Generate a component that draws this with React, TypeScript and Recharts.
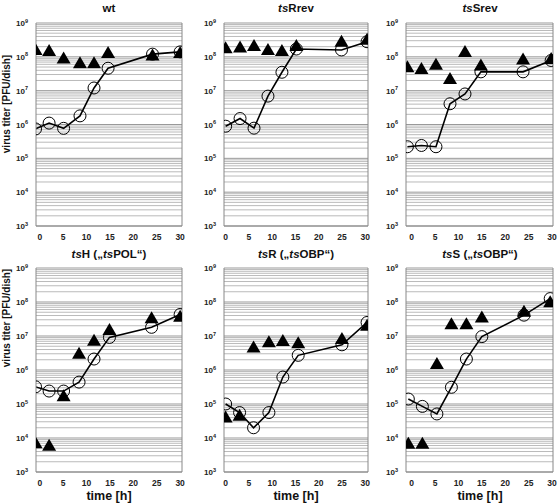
import React from 'react';
import {
  ComposedChart,
  Line,
  Scatter,
  XAxis,
  YAxis,
  ReferenceLine,
} from 'recharts';

// time points [h] and titers [PFU/dish], read per panel
const wtTime = [-0.9, 2, 5.1, 8.6, 11.6, 14.6, 24.1, 30];
const wtCircle = [7.4e5, 1.1e6, 7.7e5, 1.8e6, 1.2e7, 4.6e7, 1.2e8, 1.4e8];
const wtTriangle = [1.6e8, 1.5e8, 9e7, 6.5e7, 6.5e7, 1.3e8, 1.1e8, 1.3e8];

const tsRrevTime = [0, 3.1, 6.1, 9.1, 12.1, 15.2, 24.9, 30.4];
const tsRrevCircle = [8.9e5, 1.5e6, 7.8e5, 6.9e6, 3.5e7, 1.7e8, 1.6e8, 2.8e8];
const tsRrevTriangle = [1.8e8, 1.9e8, 2.1e8, 1.6e8, 1.5e8, 2.1e8, 2.8e8, 3.2e8];

const tsSrevTime = [-0.9, 2.1, 5.2, 8.2, 11.4, 14.8, 23.8, 29.8];
const tsSrevCircle = [2.2e5, 2.4e5, 2.2e5, 4.1e6, 8e6, 3.6e7, 3.6e7, 7.8e7];
const tsSrevTriangle = [4.9e7, 4.4e7, 5.8e7, 2.2e7, 1.4e8, 5.5e7, 8.3e7, 8.7e7];

const tsHTime = [-0.9, 2, 5.1, 8.4, 11.6, 14.9, 23.9, 30];
const tsHCircle = [3.2e5, 2.4e5, 2.4e5, 4.4e5, 2.1e6, 9.1e6, 1.8e7, 4.3e7];
const tsHTriangle = [7e3, 5.9e3, 1.7e5, 3e6, 7.3e6, 1.5e7, 3.3e7, 3.7e7];

const tsRTime = [0, 3, 6, 9.3, 12.3, 15.6, 25, 30.4];
const tsRCircle = [1e5, 5.6e4, 2.0e4, 5.6e4, 6.2e5, 2.7e6, 5.5e6, 2.5e7];
const tsRTriangle = [4e4, 4.5e4, 4.6e6, 6.6e6, 7.1e6, 6.1e6, 8.2e6, 2e7];

const tsSTime = [-0.7, 2.3, 5.4, 8.5, 11.7, 15, 24, 29.6];
const tsSCircle = [1.4e5, 8.5e4, 5.1e4, 3.1e5, 2.1e6, 9.6e6, 4.1e7, 1.26e8];
const tsSTriangle = [6.8e3, 6.8e3, 1.5e6, 2.2e7, 2.2e7, 3.5e7, 5.2e7, 9.8e7];

const xTicks = [0, 5, 10, 15, 20, 25, 30];
const yTicks = [1e3, 1e4, 1e5, 1e6, 1e7, 1e8, 1e9];

// log grid: every m * 10^n between 10^3 and 10^9
const minorGrid: number[] = [];
for (let n = 3; n < 9; n++) {
  for (let m = 2; m <= 9; m++) minorGrid.push(m * Math.pow(10, n));
}

const FONT = '"Liberation Sans", Arial, sans-serif';

const PowTick = (props: any) => {
  const { x, y, payload } = props;
  const exp = Math.round(Math.log10(payload.value));
  return (
    <text x={x} y={y + 3} textAnchor="end" fontSize={8} fontWeight="bold" fill="#222" fontFamily={FONT}>
      10
      <tspan fontSize={5.5} dy={-3.5}>{exp}</tspan>
    </text>
  );
};

const Triangle = (props: any) => {
  const { cx, cy } = props;
  if (cx == null || cy == null) return null;
  return <polygon points={`${cx},${cy - 7} ${cx + 7},${cy + 5} ${cx - 7},${cy + 5}`} fill="#000" />;
};

const OpenCircle = (props: any) => {
  const { cx, cy, index } = props;
  if (cx == null || cy == null) return null;
  return <circle key={`c${index}`} cx={cx} cy={cy} r={6} fill="none" stroke="#000" strokeWidth={1} />;
};

type PanelProps = {
  plotLeft: number;
  plotTop: number;
  plotW: number;
  plotH: number;
  domain: [number, number];
  time: number[];
  circles: number[];
  triangles: number[];
};

const YW = 26;
const MT = 8;
const MR = 8;
const XH = 18;

const Panel: React.FC<PanelProps> = ({ plotLeft, plotTop, plotW, plotH, domain, time, circles, triangles }) => {
  const data = time.map((t, i) => ({ t, c: circles[i], tr: triangles[i] }));
  return (
    <div style={{ position: 'absolute', left: plotLeft - YW, top: plotTop - MT }}>
      <ComposedChart
        width={YW + plotW + MR}
        height={MT + plotH + XH}
        data={data}
        margin={{ top: MT, right: MR, left: 0, bottom: 0 }}
      >
        {minorGrid.map((v) => (
          <ReferenceLine key={v} y={v} stroke="#bababa" strokeWidth={1} />
        ))}
        {yTicks.map((v) => (
          <ReferenceLine key={`M${v}`} y={v} stroke="#999" strokeWidth={1} />
        ))}
        <XAxis
          dataKey="t"
          type="number"
          domain={domain}
          ticks={xTicks}
          allowDataOverflow
          height={XH}
          tickLine={false}
          axisLine={{ stroke: '#888' }}
          tick={{ fill: '#222', fontSize: 8.5, fontWeight: 'bold', fontFamily: FONT }}
        />
        <YAxis
          type="number"
          scale="log"
          domain={[1e3, 1e9]}
          ticks={yTicks}
          interval={0}
          allowDataOverflow
          width={YW}
          tickLine={false}
          axisLine={{ stroke: '#888' }}
          tick={<PowTick />}
        />
        <ReferenceLine x={domain[1]} stroke="#888" />
        <Scatter dataKey="tr" shape={<Triangle />} isAnimationActive={false} />
        <Line
          dataKey="c"
          stroke="#000"
          strokeWidth={1.6}
          dot={<OpenCircle />}
          activeDot={false}
          isAnimationActive={false}
        />
      </ComposedChart>
    </div>
  );
};

const Title: React.FC<{ x: number; y: number; children: React.ReactNode }> = ({ x, y, children }) => (
  <div
    style={{
      position: 'absolute',
      left: x - 80,
      top: y - 7,
      width: 160,
      textAlign: 'center',
      fontFamily: FONT,
      fontWeight: 'bold',
      fontSize: 11.5,
      lineHeight: '14px',
      color: '#111',
    }}
  >
    {children}
  </div>
);

const YLabel: React.FC<{ cy: number }> = ({ cy }) => (
  <div
    style={{
      position: 'absolute',
      left: 7 - 80,
      top: cy - 7,
      width: 160,
      height: 14,
      lineHeight: '14px',
      textAlign: 'center',
      transform: 'rotate(-90deg)',
      fontFamily: FONT,
      fontWeight: 'bold',
      fontSize: 10,
      color: '#111',
    }}
  >
    virus titer [PFU/dish]
  </div>
);

const XLabel: React.FC<{ cx: number }> = ({ cx }) => (
  <div
    style={{
      position: 'absolute',
      left: cx - 50,
      top: 489,
      width: 100,
      textAlign: 'center',
      fontFamily: FONT,
      fontWeight: 'bold',
      fontSize: 12.5,
      lineHeight: '14px',
      color: '#111',
    }}
  >
    time [h]
  </div>
);

const cols = [
  { plotLeft: 36, plotW: 146, domain: [-0.8, 30.4] as [number, number] },
  { plotLeft: 224, plotW: 144, domain: [-0.35, 30.6] as [number, number] },
  { plotLeft: 406, plotW: 147, domain: [-1.2, 30.2] as [number, number] },
];
const rows = [
  { plotTop: 23, plotH: 203 },
  { plotTop: 268, plotH: 204 },
];

export default function App() {
  const ts = <i>ts</i>;
  return (
    <div style={{ position: 'absolute', left: 0, top: 0, width: 560, height: 503, background: '#fff', overflow: 'hidden' }}>
      <Panel {...cols[0]} {...rows[0]} time={wtTime} circles={wtCircle} triangles={wtTriangle} />
      <Panel {...cols[1]} {...rows[0]} time={tsRrevTime} circles={tsRrevCircle} triangles={tsRrevTriangle} />
      <Panel {...cols[2]} {...rows[0]} time={tsSrevTime} circles={tsSrevCircle} triangles={tsSrevTriangle} />
      <Panel {...cols[0]} {...rows[1]} time={tsHTime} circles={tsHCircle} triangles={tsHTriangle} />
      <Panel {...cols[1]} {...rows[1]} time={tsRTime} circles={tsRCircle} triangles={tsRTriangle} />
      <Panel {...cols[2]} {...rows[1]} time={tsSTime} circles={tsSCircle} triangles={tsSTriangle} />

      <Title x={109} y={8}>wt</Title>
      <Title x={296} y={8}>{ts}Rrev</Title>
      <Title x={480} y={8}>{ts}Srev</Title>
      <Title x={109} y={254}>{ts}H („{ts}POL“)</Title>
      <Title x={296} y={254}>{ts}R („{ts}OBP“)</Title>
      <Title x={480} y={254}>{ts}S („{ts}OBP“)</Title>

      <YLabel cy={104} />
      <YLabel cy={318} />
      <XLabel cx={109} />
      <XLabel cx={296} />
      <XLabel cx={480} />
    </div>
  );
}
